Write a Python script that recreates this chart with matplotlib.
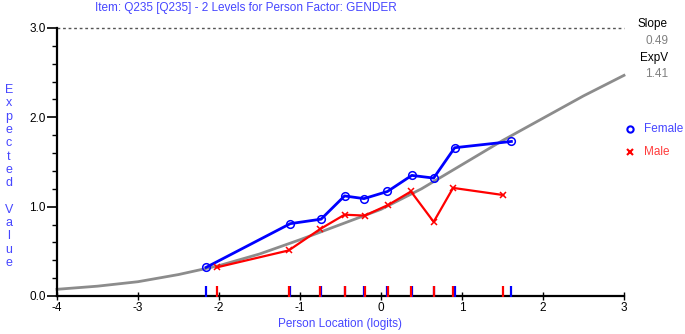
import matplotlib
matplotlib.use("Agg")
import matplotlib.pyplot as plt
from matplotlib.ticker import MultipleLocator

plt.rcParams['font.family'] = ['Liberation Sans', 'DejaVu Sans']
plt.rcParams['axes.unicode_minus'] = False

title = "Item: Q235 [Q235] - 2 Levels for Person Factor: GENDER"

# Expected value curve
curve_x = [-4.0, -3.5, -3.0, -2.5, -2.0, -1.5, -1.0, -0.5, 0.0, 0.5, 1.0, 1.5, 2.0, 2.5, 3.0]
curve_y = [0.075, 0.11, 0.16, 0.24, 0.34, 0.47, 0.63, 0.80, 0.97, 1.20, 1.47, 1.74, 1.99, 2.24, 2.47]

female_x = [-2.16, -1.12, -0.74, -0.45, -0.21, 0.08, 0.38, 0.65, 0.91, 1.61]
female_y = [0.32, 0.81, 0.86, 1.12, 1.09, 1.17, 1.35, 1.32, 1.66, 1.73]

male_x = [-2.03, -1.14, -0.75, -0.45, -0.20, 0.09, 0.37, 0.65, 0.89, 1.51]
male_y = [0.32, 0.51, 0.75, 0.91, 0.90, 1.02, 1.17, 0.83, 1.21, 1.13]

slope_val = "0.49"
expv_val = "1.41"

BLUE = "#0000ff"
RED = "#ff0000"
TXT_BLUE = "#4646ff"
TXT_RED = "#ff3c3c"

fig = plt.figure(figsize=(6.85, 3.34), dpi=100)
ax = fig.add_axes([57/685, 1-296/334, (624-57)/685, (296-28)/334])
ax.set_xlim(-4, 3)
ax.set_ylim(0, 3)

ax.plot(curve_x, curve_y, color="#8c8c8c", lw=2.0, zorder=2, clip_on=False)
ax.axhline(3.0, color="#555555", lw=1.0, ls=(0, (2, 2)), zorder=1, clip_on=False)

ax.plot(female_x, female_y, color=BLUE, lw=2.0, marker='o', mfc='none', mec=BLUE,
        ms=5.5, mew=1.1, zorder=4)
ax.plot(male_x, male_y, color=RED, lw=1.6, marker='x', mec=RED, ms=4.5, mew=1.1, zorder=5)

ax.vlines(female_x, -0.01, 0.11, color=BLUE, lw=1.6, zorder=6, clip_on=False)
ax.vlines(male_x, -0.01, 0.11, color=RED, lw=1.6, zorder=7, clip_on=False)

for s in ['top', 'right']:
    ax.spines[s].set_visible(False)
for s in ['left', 'bottom']:
    ax.spines[s].set_linewidth(1.6)
    ax.spines[s].set_color('black')

ax.yaxis.set_minor_locator(MultipleLocator(0.2))
ax.xaxis.set_major_locator(MultipleLocator(1.0))
ax.set_yticks([0, 1, 2, 3])
ax.set_yticklabels(["0.0", "1.0", "2.0", "3.0"])
ax.tick_params(axis='y', which='major', direction='out', length=7, width=1.2, labelsize=8.5, pad=1)
ax.tick_params(axis='y', which='minor', direction='out', length=3.5, width=1.0)
ax.tick_params(axis='x', which='major', direction='inout', length=6, width=1.0, labelsize=8.5, pad=1)

ax.set_xlabel("Person Location (logits)", color=TXT_BLUE, fontsize=8.5, labelpad=3)

fig.text(95/685, 1-8/334, title, color=TXT_BLUE, fontsize=8.5, ha='left', va='center')

ylabel_letters = list("Expected") + [" "] + list("Value")
y0 = 90
for i, ch in enumerate(ylabel_letters):
    fig.text(9/685, 1-(y0 + i*13.3)/334, ch, color=TXT_BLUE, fontsize=9,
             ha='center', va='center')

fig.text(668/685, 1-24/334, "Slope", color='black', fontsize=8.5, ha='right', va='center')
fig.text(668/685, 1-41/334, slope_val, color='#808080', fontsize=8.5, ha='right', va='center')
fig.text(668/685, 1-58/334, "ExpV", color='black', fontsize=8.5, ha='right', va='center')
fig.text(668/685, 1-74/334, expv_val, color='#808080', fontsize=8.5, ha='right', va='center')

fig.lines.append(plt.Line2D([630/685], [1-129/334], transform=fig.transFigure, marker='o',
                            mfc='none', mec=BLUE, ms=4.5, mew=1.5, ls='none'))
fig.lines.append(plt.Line2D([630/685], [1-152/334], transform=fig.transFigure, marker='x',
                            mec=RED, ms=4, mew=1.5, ls='none'))
fig.text(644/685, 1-129/334, "Female", color=TXT_BLUE, fontsize=8.5, ha='left', va='center')
fig.text(644/685, 1-152/334, "Male", color=TXT_RED, fontsize=8.5, ha='left', va='center')

fig.savefig("out.png", dpi=100)
